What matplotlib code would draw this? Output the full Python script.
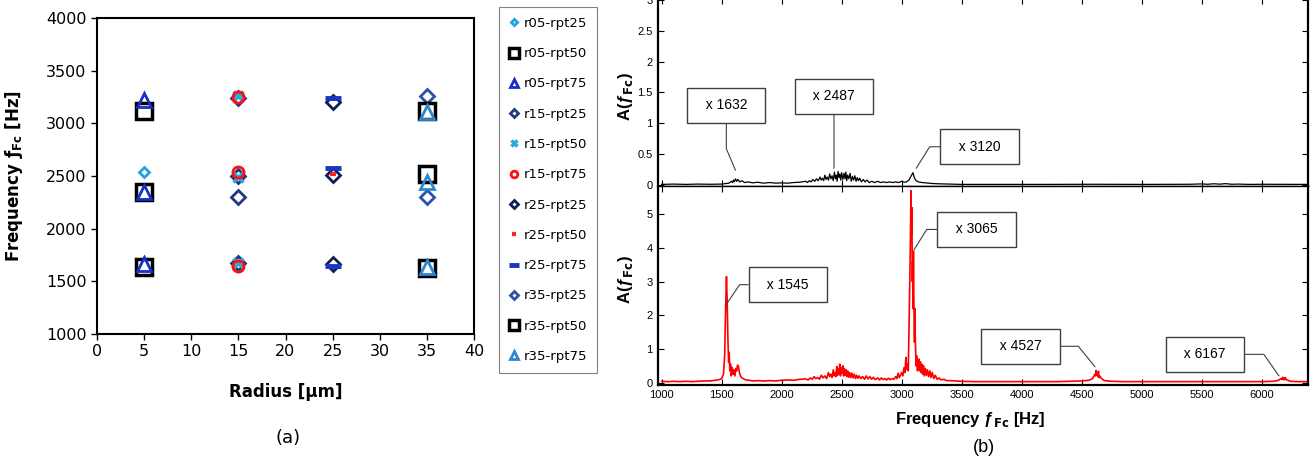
import matplotlib
matplotlib.use("Agg")
import matplotlib.pyplot as plt

# ---- (a) peak frequencies per radius / repeat ----
series_names = ['r05-rpt25', 'r05-rpt50', 'r05-rpt75',
                'r15-rpt25', 'r15-rpt50', 'r15-rpt75',
                'r25-rpt25', 'r25-rpt50', 'r25-rpt75',
                'r35-rpt25', 'r35-rpt50', 'r35-rpt75']
series_radius = [5, 5, 5, 15, 15, 15, 25, 25, 25, 35, 35, 35]
series_freq = [
    [2540],
    [3120, 2350, 1640],
    [3225, 2350, 1668],
    [3240, 2500, 2305, 1670],
    [3262, 2495, 1672],
    [3248, 2538, 1645],
    [3205, 2510, 1668],
    [2520],
    [3238, 2572, 1650],
    [3255, 2305],
    [3115, 2515, 1625],
    [3110, 2445, 1632],
]
series_color = ['#1FA2E6', 'black', '#1530C8',
                '#1F3A7A', '#2AA8E0', '#FF1010',
                '#0E1D55', '#FF2020', '#1A35C0',
                '#2B52A6', 'black', '#2D86CE']
series_marker = ['D', 's', '^', 'D', 'x', 'o', 'D', '_', '_', 'D', 's', '^']
series_ms = [5.2, 11, 9.5, 7, 7, 8, 7, 5, 12, 7, 11, 9.5]
series_mew = [2, 2.5, 2, 2, 2.5, 2, 2, 3, 3.5, 2, 2.5, 2]

# ---- (b) spectra ----
freq_top = [1000, 1100, 1200, 1300, 1400, 1500, 1560, 1580, 1590, 1598, 1605, 1615,
            1625, 1635, 1650, 1670, 1690, 1720, 1760, 1800, 1850, 1900, 1950, 2000,
            2050, 2100, 2150, 2200, 2215, 2230, 2245, 2260, 2275, 2290, 2305, 2320,
            2330, 2340, 2350, 2360, 2370, 2380, 2390, 2400, 2410, 2420, 2430, 2440,
            2448, 2455, 2462, 2470, 2478, 2485, 2492, 2500, 2510, 2520, 2528, 2535,
            2542, 2550, 2560, 2570, 2580, 2590, 2600, 2610, 2620, 2630, 2640, 2650,
            2665, 2680, 2695, 2710, 2730, 2750, 2775, 2800, 2825, 2850, 2875, 2900,
            2925, 2950, 2975, 3000, 3020, 3040, 3060, 3080, 3094, 3105, 3120, 3140,
            3170, 3200, 3250, 3300, 3400, 3500, 3800, 4200, 4600, 5000, 5400, 5500,
            5550, 5600, 5650, 5700, 5750, 5800, 5900, 6000, 6390]
amp_top = [0.01, 0.015, 0.01, 0.015, 0.012, 0.015, 0.03, 0.06, 0.04, 0.08, 0.05, 0.1,
           0.06, 0.09, 0.05, 0.07, 0.04, 0.05, 0.035, 0.045, 0.03, 0.04, 0.03, 0.035,
           0.03, 0.04, 0.045, 0.06, 0.04, 0.07, 0.05, 0.09, 0.06, 0.1, 0.07, 0.13,
           0.08, 0.11, 0.07, 0.16, 0.09, 0.13, 0.08, 0.18, 0.1, 0.15, 0.07, 0.21,
           0.1, 0.16, 0.06, 0.22, 0.12, 0.18, 0.08, 0.2, 0.09, 0.19, 0.1, 0.21,
           0.07, 0.16, 0.1, 0.19, 0.06, 0.14, 0.08, 0.15, 0.06, 0.12, 0.07, 0.11,
           0.05, 0.09, 0.05, 0.08, 0.04, 0.06, 0.04, 0.06, 0.04, 0.05, 0.04, 0.05,
           0.04, 0.05, 0.04, 0.06, 0.045, 0.05, 0.08, 0.15, 0.2, 0.12, 0.07, 0.05,
           0.04, 0.035, 0.025, 0.02, 0.015, 0.01, 0.01, 0.01, 0.012, 0.01, 0.012, 0.018,
           0.012, 0.02, 0.014, 0.022, 0.012, 0.015, 0.01, 0.012, 0.01]

freq_bot = [1000, 1050, 1100, 1150, 1200, 1250, 1300, 1350, 1400, 1450, 1480, 1500,
            1515, 1525, 1533, 1540, 1546, 1552, 1558, 1563, 1568, 1574, 1580, 1588,
            1595, 1602, 1610, 1618, 1625, 1632, 1640, 1648, 1655, 1665, 1680, 1700,
            1730, 1760, 1800, 1850, 1900, 1950, 2000, 2050, 2100, 2150, 2200, 2220,
            2240, 2255, 2270, 2285, 2300, 2315, 2330, 2345, 2360, 2375, 2390, 2400,
            2410, 2420, 2430, 2438, 2445, 2452, 2460, 2466, 2472, 2478, 2484, 2490,
            2496, 2502, 2510, 2516, 2522, 2530, 2537, 2545, 2552, 2560, 2568, 2576,
            2585, 2595, 2605, 2615, 2625, 2635, 2645, 2660, 2675, 2690, 2705, 2720,
            2735, 2750, 2765, 2780, 2800, 2815, 2830, 2845, 2860, 2875, 2890, 2905,
            2920, 2935, 2950, 2960, 2970, 2980, 2990, 3000, 3010, 3020, 3028, 3035,
            3042, 3048, 3055, 3060, 3066, 3070, 3074, 3078, 3082, 3085, 3089, 3092,
            3095, 3098, 3101, 3104, 3107, 3110, 3113, 3116, 3120, 3124, 3128, 3132,
            3136, 3140, 3145, 3150, 3156, 3162, 3168, 3175, 3182, 3190, 3198, 3206,
            3215, 3225, 3235, 3245, 3255, 3268, 3280, 3295, 3310, 3330, 3350, 3375,
            3400, 3450, 3500, 3600, 3700, 3800, 3900, 4000, 4100, 4200, 4300, 4400,
            4500, 4560, 4590, 4600, 4610, 4615, 4620, 4625, 4630, 4635, 4640, 4645,
            4650, 4665, 4690, 4750, 4850, 5000, 5200, 5400, 5600, 5800, 6000, 6100,
            6140, 6160, 6170, 6175, 6180, 6185, 6190, 6195, 6210, 6240, 6300, 6390]
amp_bot = [0.04, 0.03, 0.04, 0.03, 0.04, 0.03, 0.04, 0.05, 0.05, 0.07, 0.09, 0.12,
           0.25, 0.8, 2.2, 3.15, 2.4, 1.3, 0.6, 0.9, 0.35, 0.55, 0.2, 0.45,
           0.25, 0.38, 0.2, 0.42, 0.35, 0.52, 0.48, 0.3, 0.22, 0.15, 0.12, 0.08,
           0.07, 0.05, 0.06, 0.05, 0.06, 0.05, 0.07, 0.08, 0.07, 0.1, 0.11, 0.08,
           0.14, 0.1, 0.18, 0.12, 0.15, 0.1, 0.22, 0.14, 0.2, 0.12, 0.3, 0.18,
           0.25, 0.15, 0.38, 0.2, 0.3, 0.18, 0.48, 0.22, 0.4, 0.25, 0.55, 0.2,
           0.45, 0.28, 0.5, 0.2, 0.42, 0.22, 0.38, 0.18, 0.35, 0.16, 0.3, 0.15,
           0.28, 0.14, 0.25, 0.12, 0.22, 0.13, 0.2, 0.12, 0.18, 0.1, 0.2, 0.11,
           0.18, 0.1, 0.16, 0.09, 0.14, 0.08, 0.14, 0.09, 0.12, 0.08, 0.13, 0.09,
           0.12, 0.1, 0.18, 0.12, 0.28, 0.15, 0.22, 0.3, 0.2, 0.45, 0.3, 0.75,
           0.4, 0.55, 0.35, 1.4, 2.5, 3.5, 4.6, 5.7, 4.4, 5.2, 3.0, 3.6,
           2.2, 3.9, 2.6, 1.8, 1.2, 2.2, 1.4, 1.0, 0.5, 0.8, 0.7, 0.35,
           0.6, 0.4, 0.7, 0.35, 0.62, 0.3, 0.55, 0.25, 0.5, 0.2, 0.42, 0.22,
           0.38, 0.18, 0.35, 0.15, 0.3, 0.12, 0.22, 0.1, 0.14, 0.08, 0.1, 0.06,
           0.06, 0.05, 0.04, 0.03, 0.03, 0.03, 0.03, 0.03, 0.03, 0.03, 0.03, 0.04,
           0.05, 0.07, 0.12, 0.18, 0.25, 0.2, 0.36, 0.22, 0.28, 0.18, 0.34, 0.15,
           0.2, 0.12, 0.06, 0.04, 0.03, 0.03, 0.03, 0.03, 0.03, 0.03, 0.03, 0.04,
           0.07, 0.12, 0.09, 0.16, 0.1, 0.13, 0.08, 0.15, 0.08, 0.04, 0.03, 0.03]

# label text, point it marks (freq, A), box centre (freq, A), leader angles
notes_top = [('x 1632', (1615, 0.24), (1539, 1.29), (90, -67)),
             ('x 2487', (2436, 0.27), (2436, 1.44), None),
             ('x 3120', (3121, 0.27), (3648, 0.62), (0, 58))]
notes_bot = [('x 1545', (1536, 2.31), (2052, 2.91), (0, 56)),
             ('x 3065', (3102, 3.94), (3623, 4.55), (0, 58)),
             ('x 4527', (4611, 0.47), (3989, 1.08), (0, -51)),
             ('x 6167', (6144, 0.20), (5524, 0.84), (0, -55))]

W, H = 1311, 465
fig = plt.figure(figsize=(W / 100, H / 100), dpi=100)


def box(l, t, r, b):
    return [l / W, 1 - b / H, (r - l) / W, (b - t) / H]


# ---------- panel (a) ----------
ax = fig.add_axes(box(97, 18, 474, 334))
for i in range(len(series_names)):
    xs = [series_radius[i]] * len(series_freq[i])
    mk = series_marker[i]
    face = series_color[i] if mk in ('x', '_') else 'none'
    ax.plot(xs, series_freq[i], linestyle='none', marker=mk, ms=series_ms[i],
            mew=series_mew[i], mec=series_color[i], mfc=face,
            label=series_names[i], clip_on=False)
ax.set_xlim(0, 40)
ax.set_ylim(1000, 4000)
ax.set_xticks(range(0, 41, 5))
ax.set_yticks(range(1000, 4001, 500))
ax.tick_params(direction='out', length=4, width=1, labelsize=11.5)
for s in ax.spines.values():
    s.set_linewidth(1.5)
ax.set_ylabel('Frequency ƒ$_{\\mathbf{Fc}}$ [Hz]', fontsize=12, fontweight='bold')
ax.set_xlabel('Radius [μm]', fontsize=12, fontweight='bold')
ax.yaxis.set_label_coords(-0.19, 0.5)
ax.xaxis.set_label_coords(0.5, -0.155)

handles, labels = ax.get_legend_handles_labels()
leg = fig.legend(handles, labels, loc='upper left', bbox_to_anchor=(499 / W, 1 - 7 / H),
                 borderaxespad=0, fontsize=9.5, labelspacing=1.31, borderpad=0.75,
                 handlelength=0.8, handletextpad=0.35, markerscale=0.6,
                 fancybox=False, framealpha=1)
leg.get_frame().set_edgecolor('#808080')
leg.get_frame().set_linewidth(0.8)

fig.text(288 / W, 1 - 438 / H, '(a)', fontsize=13, ha='center', va='center')

# ---------- panel (b) ----------
xlim_b = (967, 6386)
ax_top = fig.add_axes(box(657.7, -2, 1308, 186))
ax_bot = fig.add_axes(box(657.7, 186, 1308, 385))

ax_top.plot(freq_top, amp_top, color='black', lw=0.9)
ax_bot.plot(freq_bot, amp_bot, color='red', lw=1.2)

ax_top.set_xlim(*xlim_b)
ax_bot.set_xlim(*xlim_b)
ax_top.set_ylim(-0.016, 3.03)
ax_bot.set_ylim(-0.07, 5.84)

xt = list(range(1000, 6001, 500))
for a in (ax_top, ax_bot):
    a.set_xticks(xt)
    a.tick_params(direction='in', top=True, right=True, length=4, width=0.8,
                  labelsize=8, labelfontfamily='Liberation Sans')
    for s in a.spines.values():
        s.set_linewidth(1.6)
ax_top.spines['bottom'].set_linewidth(1.0)
ax_bot.spines['top'].set_linewidth(1.0)
ax_top.tick_params(labelbottom=False)
ax_top.set_yticks([0, 0.5, 1, 1.5, 2, 2.5, 3])
ax_top.set_yticklabels(['0', '0.5', '1', '1.5', '2', '2.5', '3'])
ax_bot.set_yticks(range(0, 6))

for a, yc in ((ax_top, 0.475), (ax_bot, 0.528)):
    a.set_ylabel('A(ƒ$_{\\mathbf{Fc}}$)', fontsize=12, fontweight='bold',
                 family='Liberation Sans')
    a.yaxis.set_label_coords(-0.035, yc)
ax_bot.set_xlabel('Frequency ƒ$_{\\mathbf{Fc}}$ [Hz]', fontsize=12, fontweight='bold',
                  family='Liberation Sans')
ax_bot.xaxis.set_label_coords(0.48, -0.126)

for a, notes in ((ax_top, notes_top), (ax_bot, notes_bot)):
    for txt, pt, pos, ang in notes:
        if ang is None:
            cs = 'arc3'
        else:
            cs = 'angle,angleA=%d,angleB=%d,rad=0' % ang
        a.annotate('  ' + txt + '  ', xy=pt, xytext=pos, fontsize=10,
                   family='Liberation Sans', ha='center', va='center',
                   bbox=dict(boxstyle='square,pad=0.75', fc='white', ec='#404040', lw=1),
                   arrowprops=dict(arrowstyle='-', color='#404040', lw=0.8,
                                   connectionstyle=cs, shrinkA=0, shrinkB=0))

fig.text(984 / W, 1 - 447 / H, '(b)', fontsize=13, ha='center', va='center',
         family='Liberation Sans')

fig.savefig('out.png', dpi=100)
